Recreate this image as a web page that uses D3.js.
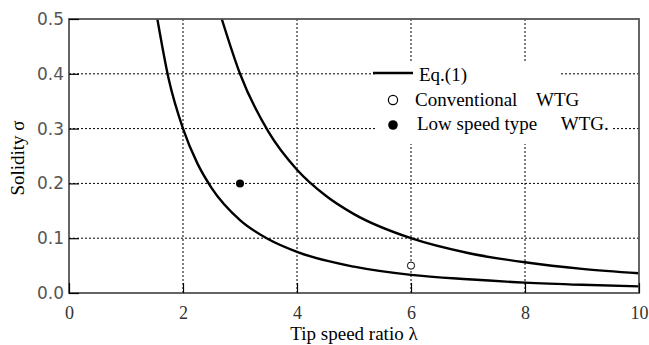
<!DOCTYPE html>
<html>
<head>
<meta charset="utf-8">
<script src="https://cdn.jsdelivr.net/npm/d3@7"></script>
<style>
  body { margin: 0; background: #fff; }
  svg { display: block; }
</style>
</head>
<body>
<div id="chart"></div>
<script>
/* CONSTANTS AND GLOBALS */
const width = 649,
  height = 345,
  margin = { top: 19, bottom: 52, left: 69, right: 10 };
const serif = "'Liberation Serif', 'Times New Roman', serif";

/* DATA */
const xTicks = [0, 2, 4, 6, 8, 10];
const yTicks = [0.0, 0.1, 0.2, 0.3, 0.4, 0.5];

// Eq.(1), lower curve
const lowLambda = [1.55, 1.75, 2, 2.25, 2.5, 3, 3.5, 4, 5, 6, 7, 8, 9, 10];
const lowSigma  = [0.5, 0.39, 0.30, 0.237, 0.192, 0.133, 0.098, 0.075, 0.048, 0.033, 0.025, 0.019, 0.015, 0.012];
// Eq.(1), upper curve
const highLambda = [2.68, 3, 3.5, 4, 4.5, 5, 6, 7, 8, 9, 10];
const highSigma  = [0.5, 0.40, 0.294, 0.225, 0.178, 0.144, 0.10, 0.073, 0.056, 0.044, 0.036];

// turbines
const conventional = [{ lambda: 6, sigma: 0.05 }];
const lowSpeed = [{ lambda: 3, sigma: 0.2 }];

const legendLabels = ["Eq.(1)", "Conventional    WTG", "Low speed type     WTG."];

/* SCALES */
const x = d3.scaleLinear().domain([0, 10]).range([margin.left, width - margin.right]);
const y = d3.scaleLinear().domain([0, 0.5]).range([height - margin.bottom, margin.top]);

const svg = d3.select("#chart").append("svg")
  .attr("width", width)
  .attr("height", height);

const plotW = width - margin.left - margin.right,
  plotH = height - margin.top - margin.bottom;

svg.append("defs").append("clipPath").attr("id", "clip")
  .append("rect")
  .attr("x", margin.left).attr("y", margin.top)
  .attr("width", plotW).attr("height", plotH);

/* GRID */
const grid = svg.append("g")
  .attr("stroke", "#000")
  .attr("stroke-width", 1)
  .attr("stroke-dasharray", "2,2");

grid.selectAll("line.vx")
  .data(xTicks.filter(d => d > 0 && d < 10))
  .join("line")
  .attr("x1", d => x(d)).attr("x2", d => x(d))
  .attr("y1", y(0.5)).attr("y2", y(0));

grid.selectAll("line.hy")
  .data(yTicks.filter(d => d > 0 && d < 0.5))
  .join("line")
  .attr("x1", x(0)).attr("x2", x(10))
  .attr("y1", d => y(d)).attr("y2", d => y(d));

/* LEGEND BACKGROUND (covers the grid) */
const legendBg = svg.append("g").attr("fill", "#fff");
legendBg.append("rect")
  .attr("x", 375).attr("y", 61)
  .attr("width", 185).attr("height", 83);

/* CURVES */
const line = d3.line()
  .x(d => x(d[0]))
  .y(d => y(d[1]))
  .curve(d3.curveMonotoneX);

const curves = [
  d3.zip(lowLambda, lowSigma),
  d3.zip(highLambda, highSigma)
];

svg.append("g")
  .attr("clip-path", "url(#clip)")
  .selectAll("path")
  .data(curves)
  .join("path")
  .attr("d", line)
  .attr("fill", "none")
  .attr("stroke", "#000")
  .attr("stroke-width", 2.4);

/* POINTS */
svg.selectAll("circle.conv")
  .data(conventional)
  .join("circle")
  .attr("class", "conv")
  .attr("cx", d => x(d.lambda))
  .attr("cy", d => y(d.sigma))
  .attr("r", 3.6)
  .attr("fill", "#fff")
  .attr("stroke", "#000")
  .attr("stroke-width", 1);

svg.selectAll("circle.low")
  .data(lowSpeed)
  .join("circle")
  .attr("class", "low")
  .attr("cx", d => x(d.lambda))
  .attr("cy", d => y(d.sigma))
  .attr("r", 4)
  .attr("fill", "#000");

/* FRAME AND AXES */
svg.append("rect")
  .attr("x", margin.left).attr("y", margin.top)
  .attr("width", plotW).attr("height", plotH)
  .attr("fill", "none")
  .attr("stroke", "#555")
  .attr("stroke-width", 1.8);

const xAxis = svg.append("g")
  .attr("transform", `translate(0,${y(0)})`)
  .call(d3.axisBottom(x).tickValues(xTicks).tickSizeInner(-10).tickSizeOuter(0).tickPadding(13));
xAxis.select(".domain").remove();
xAxis.selectAll("line").attr("stroke", "#000").attr("stroke-width", 1.2);
xAxis.selectAll("text")
  .style("font-family", serif)
  .style("font-size", "18px")
  .attr("fill", "#333");

const yAxis = svg.append("g")
  .attr("transform", `translate(${x(0)},0)`)
  .call(d3.axisLeft(y).tickValues(yTicks).tickFormat(d3.format(".1f")).tickSizeInner(-10).tickSizeOuter(0).tickPadding(5));
yAxis.select(".domain").remove();
yAxis.selectAll("line").attr("stroke", "#000").attr("stroke-width", 1.2);
yAxis.selectAll("text")
  .style("font-family", "'DejaVu Sans', sans-serif")
  .style("font-size", "17px")
  .attr("fill", "#555");

/* AXIS TITLES */
svg.append("text")
  .attr("x", x(5))
  .attr("y", 340)
  .attr("text-anchor", "middle")
  .style("font-family", serif)
  .style("font-size", "19px")
  .text("Tip speed ratio λ");

svg.append("text")
  .attr("transform", `translate(24,${y(0.25) + 2}) rotate(-90)`)
  .attr("text-anchor", "middle")
  .style("font-family", serif)
  .style("font-size", "19px")
  .text("Solidity σ");

/* LEGEND */
const legend = svg.append("g")
  .style("font-family", serif)
  .style("font-size", "19px")
  .attr("fill", "#000");

legend.append("line")
  .attr("x1", 373).attr("x2", 413)
  .attr("y1", 73).attr("y2", 73)
  .attr("stroke", "#000").attr("stroke-width", 2.4);

legend.append("circle")
  .attr("cx", 393).attr("cy", 100).attr("r", 4.6)
  .attr("fill", "#fff").attr("stroke", "#000").attr("stroke-width", 1.2);

legend.append("circle")
  .attr("cx", 393).attr("cy", 125).attr("r", 4.8)
  .attr("fill", "#000");

const legendText = legend.selectAll("text")
  .data(legendLabels)
  .join("text")
  .attr("x", (d, i) => i === 0 ? 419 : (i === 1 ? 415 : 417))
  .attr("y", (d, i) => 81 + i * 24.5)
  .style("white-space", "pre")
  .text(d => d);

// white backing behind each legend label so the grid breaks around it
legendText.each(function () {
  const b = this.getBBox();
  legendBg.append("rect")
    .attr("x", b.x - 2).attr("y", b.y + 2)
    .attr("width", b.width + 6).attr("height", b.height - 4);
});
</script>
</body>
</html>
